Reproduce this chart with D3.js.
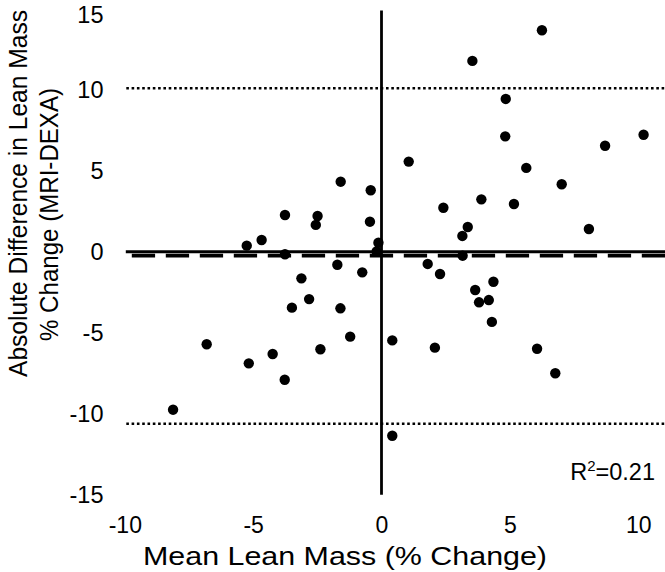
<!DOCTYPE html>
<html>
<head>
<meta charset="utf-8">
<script src="https://cdn.jsdelivr.net/npm/d3@7"></script>
<style>
  html, body { margin: 0; padding: 0; background: #fff; }
  svg { display: block; font-family: "Liberation Sans", Arial, Helvetica, sans-serif; }
</style>
</head>
<body>
<svg id="chart" width="665" height="572"></svg>
<script>
// Data
const meanLeanMass = [-1.59,-0.42,-3.76,-2.49,-2.56,-0.45,-4.67,-5.25,-0.12,-0.19,-3.76,
  6.25,3.54,4.84,4.82,10.21,8.71,1.06,5.64,7.02,3.89,5.16,2.41,8.08,3.36,3.15,3.16,
  -1.72,-0.75,-3.12,-2.82,-3.49,-1.60,-1.22,-6.81,-2.38,-4.24,-5.17,-3.77,-8.12,
  1.80,2.28,4.36,3.65,3.80,4.18,4.30,0.42,2.08,6.06,6.77,0.42];
const diffLeanMass = [4.33,3.80,2.27,2.21,1.66,1.86,0.73,0.38,0.56,0.02,-0.15,
  13.68,11.79,9.44,7.13,7.23,6.55,5.57,5.18,4.17,3.24,2.95,2.72,1.41,1.53,0.98,-0.24,
  -0.80,-1.27,-1.64,-2.92,-3.45,-3.49,-5.24,-5.71,-6.02,-6.31,-6.89,-7.90,-9.75,
  -0.75,-1.37,-1.85,-2.36,-3.12,-2.98,-4.33,-5.47,-5.92,-5.99,-7.50,-11.36];
const xTicks = [-10, -5, 0, 5, 10];
const yTicks = [15, 10, 5, 0, -5, -10, -15];
const meanBias = [-0.24];
const limitsOfAgreement = [10.10, -10.62];
const xTitle = "Mean Lean Mass (% Change)";
const yTitleLines = ["Absolute Difference in Lean Mass", "% Change (MRI-DEXA)"];
const rSquared = "0.21";

const svg = d3.select("#chart");
const x = d3.scaleLinear().domain([-10, 10]).range([124.8, 638.2]);
const y = d3.scaleLinear().domain([-15, 15]).range([494.7, 8.9]);
const xEnd = 11.1;

// Limits of agreement (dotted)
svg.selectAll("line.loa").data(limitsOfAgreement).join("line")
  .attr("class", "loa")
  .attr("x1", x(-10) + 1.5).attr("x2", x(xEnd))
  .attr("y1", d => y(d)).attr("y2", d => y(d))
  .attr("stroke", "#000").attr("stroke-width", 2.6)
  .attr("stroke-dasharray", "2.6 2.7");

// Zero horizontal line (solid)
svg.append("line")
  .attr("x1", x(-10) + 1).attr("x2", x(xEnd))
  .attr("y1", y(0)).attr("y2", y(0))
  .attr("stroke", "#000").attr("stroke-width", 2.9);

// Mean bias (dashed)
svg.selectAll("line.bias").data(meanBias).join("line")
  .attr("class", "bias")
  .attr("x1", x(-10) + 7).attr("x2", x(xEnd))
  .attr("y1", d => y(d)).attr("y2", d => y(d))
  .attr("stroke", "#000").attr("stroke-width", 3.7)
  .attr("stroke-dasharray", "23.3 10.7");

// Vertical zero line
svg.append("line")
  .attr("x1", x(0)).attr("x2", x(0))
  .attr("y1", y(15) + 1.5).attr("y2", y(-15))
  .attr("stroke", "#000").attr("stroke-width", 2.8);

// Points
svg.append("g").selectAll("circle")
  .data(meanLeanMass.map((v, i) => [v, diffLeanMass[i]]))
  .join("circle")
  .attr("cx", d => x(d[0])).attr("cy", d => y(d[1]))
  .attr("r", 5.2).attr("fill", "#000");

// Axes (labels only)
const fmt = d => String(d);
const yAxis = svg.append("g").attr("transform", "translate(103.5,0)")
  .call(d3.axisLeft(y).tickValues(yTicks).tickSize(0).tickPadding(0).tickFormat(fmt));
yAxis.select(".domain").remove();
yAxis.selectAll("text").attr("font-size", 23.5).attr("fill", "#000")
  .attr("font-family", "Liberation Sans, Arial, sans-serif")
  .attr("dy", d => d === 15 ? "0.56em" : "0.34em");

const xAxis = svg.append("g").attr("transform", "translate(0,516.4)")
  .call(d3.axisBottom(x).tickValues(xTicks).tickSize(0).tickPadding(0).tickFormat(fmt));
xAxis.select(".domain").remove();
xAxis.selectAll("text").attr("font-size", 23).attr("fill", "#000")
  .attr("font-family", "Liberation Sans, Arial, sans-serif");

// Axis titles
svg.append("text")
  .attr("x", 345).attr("y", 565)
  .attr("text-anchor", "middle").attr("font-size", 26.5)
  .attr("textLength", 404).attr("lengthAdjust", "spacingAndGlyphs")
  .attr("fill", "#000").text(xTitle);

const yTitlePos = [{cx: 26.5, cy: 193.5, len: 367}, {cx: 57.5, cy: 214.5, len: 253}];
svg.selectAll("text.ytitle").data(yTitleLines).join("text")
  .attr("class", "ytitle")
  .attr("transform", (d, i) => `translate(${yTitlePos[i].cx},${yTitlePos[i].cy}) rotate(-90)`)
  .attr("text-anchor", "middle").attr("font-size", 25)
  .attr("textLength", (d, i) => yTitlePos[i].len).attr("lengthAdjust", "spacingAndGlyphs")
  .attr("fill", "#000").text(d => d);

// R squared annotation
const rt = svg.append("text")
  .attr("x", 655).attr("y", 480)
  .attr("text-anchor", "end").attr("font-size", 23.5).attr("fill", "#000");
rt.append("tspan").text("R");
rt.append("tspan").attr("font-size", 15).attr("dy", -9).text("2");
rt.append("tspan").attr("dy", 9).text("=" + rSquared);
</script>
</body>
</html>
